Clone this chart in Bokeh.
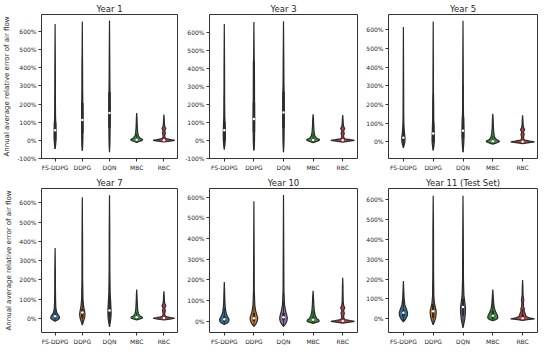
from bokeh.plotting import figure
from bokeh.layouts import gridplot
from bokeh.models import Range1d, FixedTicker, PrintfTickFormatter
from bokeh.embed import file_html
from bokeh.resources import INLINE

METHODS = ["FS-DDPG", "DDPG", "DQN", "MBC", "RBC"]
COLORS = ["#3274a1", "#e1812c", "#9372b2", "#3a923a", "#c03d3e"]
TITLES = ["Year 1", "Year 3", "Year 5", "Year 7", "Year 10", "Year 11 (Test Set)"]
YLABEL = "Annual average relative error of air flow"
Y_TICKS = [-100, 0, 100, 200, 300, 400, 500, 600]
Y_RANGES = [(-100, 693), (-100, 697), (-89, 682), (-74, 675), (-54, 642), (-69, 657)]

# violin profiles: (y values in %, half widths in category units), per method
RBC_A_Y = [-9, -4, 0, 4, 9, 18, 30, 40, 50, 60, 66, 75, 90, 115, 142]
RBC_A_W = [0, 0.22, 0.4, 0.25, 0.07, 0.03, 0.035, 0.055, 0.03, 0.05, 0.07, 0.035, 0.018, 0.012, 0]

Y1_PROFILES = [
    ([-47, -25, 0, 30, 60, 100, 130, 200, 400, 640], [0, 0.02, 0.032, 0.036, 0.032, 0.025, 0.016, 0.012, 0.009, 0]),
    ([-57, -30, 0, 50, 110, 200, 260, 400, 655], [0, 0.014, 0.02, 0.024, 0.024, 0.02, 0.014, 0.01, 0]),
    ([-65, -30, 0, 70, 150, 260, 320, 450, 660], [0, 0.012, 0.018, 0.022, 0.024, 0.02, 0.014, 0.01, 0]),
    ([-12, -5, 0, 5, 12, 25, 45, 80, 120, 150], [0, 0.12, 0.2, 0.22, 0.12, 0.06, 0.035, 0.02, 0.012, 0]),
    (RBC_A_Y, RBC_A_W),
]
Y1_BOX = [[-47, 0, 55, 100, 250], [-57, 40, 112, 205, 450], [-65, 70, 150, 265, 555],
          [-10, -2, 3, 12, 35], [-8, -2, 1, 4, 12]]

Y3_PROFILES = [
    ([-50, -25, 0, 30, 60, 100, 130, 200, 400, 645], [0, 0.02, 0.032, 0.036, 0.032, 0.025, 0.016, 0.012, 0.009, 0]),
    ([-55, -30, 0, 50, 120, 210, 300, 430, 450, 655], [0, 0.014, 0.02, 0.024, 0.025, 0.022, 0.02, 0.017, 0.01, 0]),
    ([-65, -30, 0, 70, 155, 270, 330, 450, 660], [0, 0.012, 0.018, 0.022, 0.024, 0.02, 0.014, 0.01, 0]),
    ([-12, -5, 0, 5, 12, 25, 45, 80, 120, 145], [0, 0.12, 0.2, 0.22, 0.12, 0.06, 0.035, 0.02, 0.012, 0]),
    ([-9, -4, 0, 4, 9, 18, 30, 40, 50, 60, 66, 75, 90, 115, 140], RBC_A_W),
]
Y3_BOX = [[-50, 0, 57, 100, 250], [-55, 50, 118, 210, 430], [-65, 70, 155, 270, 560],
          [-10, -2, 3, 12, 35], [-8, -2, 1, 4, 12]]

Y5_PROFILES = [
    ([-32, -15, 0, 20, 40, 70, 100, 150, 300, 615], [0, 0.03, 0.05, 0.055, 0.04, 0.024, 0.015, 0.011, 0.008, 0]),
    ([-45, -20, 0, 20, 45, 80, 105, 150, 225, 260, 645], [0, 0.025, 0.036, 0.038, 0.032, 0.025, 0.02, 0.017, 0.014, 0.009, 0]),
    ([-55, -25, 0, 30, 60, 100, 135, 200, 350, 648], [0, 0.018, 0.028, 0.032, 0.032, 0.025, 0.018, 0.012, 0.009, 0]),
    ([-12, -5, 0, 5, 12, 25, 45, 80, 120, 150], [0, 0.13, 0.21, 0.22, 0.12, 0.06, 0.035, 0.02, 0.012, 0]),
    ([-9, -4, 0, 4, 9, 18, 30, 40, 50, 60, 66, 75, 90, 115, 142], RBC_A_W),
]
Y5_BOX = [[-32, 5, 22, 45, 100], [-45, 0, 45, 105, 260], [-55, 20, 60, 135, 300],
          [-10, -2, 3, 10, 30], [-8, -2, 1, 4, 12]]

Y7_PROFILES = [
    ([-15, -8, 0, 10, 20, 30, 50, 80, 150, 250, 365], [0, 0.1, 0.16, 0.15, 0.1, 0.06, 0.03, 0.02, 0.013, 0.01, 0]),
    ([-35, -15, 0, 20, 40, 60, 100, 200, 400, 630], [0, 0.045, 0.08, 0.1, 0.08, 0.05, 0.025, 0.013, 0.01, 0]),
    ([-45, -20, 0, 25, 50, 90, 130, 250, 450, 640], [0, 0.03, 0.05, 0.06, 0.055, 0.04, 0.025, 0.013, 0.01, 0]),
    ([-8, -3, 0, 5, 12, 25, 45, 80, 120, 150], [0, 0.12, 0.2, 0.21, 0.12, 0.06, 0.035, 0.02, 0.012, 0]),
    ([-9, -4, 0, 4, 9, 18, 30, 40, 50, 60, 66, 75, 90, 115, 140], RBC_A_W),
]
Y7_BOX = [[-15, 0, 10, 25, 60], [-35, 0, 30, 50, 110], [-45, 5, 40, 90, 210],
          [-6, -1, 5, 12, 30], [-8, -2, 1, 4, 12]]

Y10_PROFILES = [
    ([-15, -8, 0, 10, 25, 40, 70, 100, 140, 190], [0, 0.1, 0.15, 0.16, 0.1, 0.06, 0.03, 0.018, 0.012, 0]),
    ([-25, -12, 0, 15, 30, 50, 80, 150, 300, 580], [0, 0.07, 0.11, 0.13, 0.1, 0.06, 0.03, 0.013, 0.01, 0]),
    ([-25, -12, 0, 15, 30, 50, 80, 150, 300, 610], [0, 0.07, 0.11, 0.13, 0.11, 0.07, 0.035, 0.014, 0.01, 0]),
    ([-10, -4, 0, 5, 12, 25, 45, 80, 120, 148], [0, 0.13, 0.2, 0.2, 0.13, 0.08, 0.045, 0.025, 0.012, 0]),
    ([-9, -4, 0, 4, 9, 18, 30, 40, 50, 60, 66, 75, 90, 130, 170, 210],
     [0, 0.22, 0.4, 0.25, 0.07, 0.03, 0.04, 0.055, 0.03, 0.05, 0.07, 0.035, 0.018, 0.012, 0.01, 0]),
]
Y10_BOX = [[-15, -2, 10, 25, 65], [-25, 0, 15, 40, 100], [-25, 5, 20, 40, 95],
           [-8, -1, 8, 20, 50], [-8, -2, 1, 5, 15]]

Y11_PROFILES = [
    ([-15, 0, 15, 30, 50, 70, 100, 140, 190], [0, 0.08, 0.13, 0.14, 0.1, 0.05, 0.025, 0.013, 0]),
    ([-30, -10, 5, 25, 40, 60, 80, 120, 250, 450, 620], [0, 0.05, 0.08, 0.1, 0.1, 0.07, 0.04, 0.02, 0.012, 0.01, 0]),
    ([-45, -20, 0, 30, 60, 90, 120, 200, 400, 620], [0, 0.035, 0.06, 0.08, 0.08, 0.055, 0.03, 0.015, 0.01, 0]),
    ([-10, -4, 0, 5, 15, 30, 50, 70, 100, 148], [0, 0.1, 0.15, 0.17, 0.16, 0.11, 0.06, 0.035, 0.02, 0]),
    ([-8, -3, 0, 5, 12, 25, 40, 50, 60, 80, 95, 120, 160, 195],
     [0, 0.22, 0.4, 0.22, 0.12, 0.09, 0.05, 0.06, 0.035, 0.025, 0.04, 0.015, 0.01, 0]),
]
Y11_BOX = [[-15, 10, 30, 45, 100], [-30, 5, 38, 75, 180], [-45, 15, 60, 100, 230],
           [-10, 0, 15, 40, 100], [-8, 0, 3, 20, 50]]

PANELS = [(Y1_PROFILES, Y1_BOX), (Y3_PROFILES, Y3_BOX), (Y5_PROFILES, Y5_BOX),
          (Y7_PROFILES, Y7_BOX), (Y10_PROFILES, Y10_BOX), (Y11_PROFILES, Y11_BOX)]

FONT = "DejaVu Sans"
TXT = "#262626"
EDGE = "#2b2b2b"

# layout (pixels)
COL_W = [179, 179, 182]
COL_L = [38, 30, 30]
COL_R = [2, 1, 3]
ROW_H = 174
TOP_B = 14
BOT_B = 16


def make_panel(k):
    row, col = divmod(k, 3)
    profiles, boxes = PANELS[k]
    p = figure(width=COL_W[col], height=ROW_H, output_backend="svg", toolbar_location=None,
               x_range=Range1d(-0.5, 4.5), y_range=Range1d(*Y_RANGES[k]),
               min_border_left=COL_L[col], min_border_right=COL_R[col],
               min_border_top=TOP_B, min_border_bottom=BOT_B, title=TITLES[k])
    p.title.align = "center"
    p.title.text_font = FONT
    p.title.text_font_size = "8.5px"
    p.title.text_font_style = "normal"
    p.title.text_color = TXT
    p.title.standoff = 2
    p.xgrid.visible = False
    p.ygrid.visible = False
    p.outline_line_color = "#333333"
    p.outline_line_width = 1
    p.background_fill_color = "white"
    p.border_fill_color = "white"

    p.xaxis.ticker = FixedTicker(ticks=list(range(len(METHODS))))
    p.xaxis.major_label_overrides = {i: m for i, m in enumerate(METHODS)}
    p.yaxis.ticker = FixedTicker(ticks=Y_TICKS)
    p.yaxis.formatter = PrintfTickFormatter(format="%d%%")
    for ax in (p.xaxis[0], p.yaxis[0]):
        ax.axis_line_color = None
        ax.major_tick_line_color = "#333333"
        ax.major_tick_out = 3
        ax.major_tick_in = 0
        ax.minor_tick_line_color = None
        ax.major_label_text_font = FONT
        ax.major_label_text_font_size = "6px"
        ax.major_label_text_color = TXT
        ax.major_label_standoff = 2
    if col == 0:
        p.yaxis.axis_label = YLABEL
        p.yaxis.axis_label_text_font = FONT
        p.yaxis.axis_label_text_font_size = "7px"
        p.yaxis.axis_label_text_font_style = "normal"
        p.yaxis.axis_label_text_color = TXT
        p.yaxis.axis_label_standoff = 3

    for i, (prof, box) in enumerate(zip(profiles, boxes)):
        ys, ws = prof
        xs = [i - w for w in ws] + [i + w for w in reversed(ws)]
        yy = list(ys) + list(reversed(ys))
        p.patch(xs, yy, fill_color=COLORS[i], line_color=EDGE, line_width=1.2)
        lo, q1, med, q3, hi = box
        p.segment(x0=[i], y0=[lo], x1=[i], y1=[hi], line_color=EDGE, line_width=1)
        p.segment(x0=[i], y0=[q1], x1=[i], y1=[q3], line_color=EDGE, line_width=2.5)
        p.scatter([i], [med], size=2.5, fill_color="white", line_color=None)
    return p


figs = [make_panel(k) for k in range(6)]
grid = gridplot([figs[:3], figs[3:]], toolbar_location=None)
open("out.html", "w").write(file_html(grid, INLINE))
